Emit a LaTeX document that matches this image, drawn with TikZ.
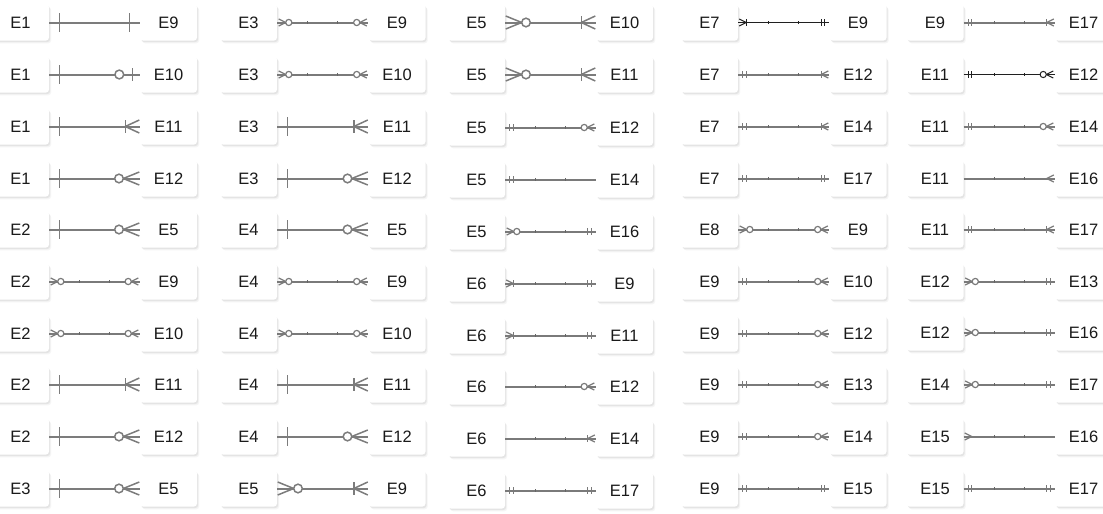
\documentclass[tikz,border=0pt]{standalone}
\usepackage{fontspec}
\setmainfont{Liberation Sans}
\usetikzlibrary{shadows}
\definecolor{bigc}{HTML}{7C7C7C}
\definecolor{smlc}{HTML}{7A7A7A}
\definecolor{blkc}{HTML}{202020}
\definecolor{textc}{HTML}{1A1A1A}
\newfontfamily\entfont{Liberation Sans}
\tikzset{
  ent/.style={rectangle, rounded corners=3pt, fill=white, minimum width=57pt, minimum height=36pt, inner sep=0pt,
    font=\entfont\fontsize{16.5}{18}\selectfont, text=textc,
    drop shadow={shadow xshift=2.2pt, shadow yshift=-2.8pt, opacity=0.08},
    drop shadow={shadow xshift=1.2pt, shadow yshift=-1.6pt, opacity=0.14}},
  Big/.style={color=bigc, line width=2.0pt, markline/.style={line width=1.5pt}},
  Sml/.style={color=smlc, line width=2.0pt, markline/.style={line width=1.2pt}},
  Blk/.style={color=blkc, line width=1.1pt, markline/.style={line width=1pt}},
  Bigtick/.style={inner sep=0pt, minimum size=0pt, draw=none},
  Smltick/.style={rectangle, inner sep=0pt, minimum width=1pt, minimum height=3.6pt, fill=black!60},
  Blktick/.style={rectangle, inner sep=0pt, minimum width=1pt, minimum height=3.2pt, fill=blkc},
  pics/none/.style={code={}},
  pics/Bone/.style={code={\draw[markline] (10.5,-9.5) -- (10.5,9.5);}},
  pics/BzeroOne/.style={code={\draw[markline] (7.5,-6.5) -- (7.5,6.5);
      \draw[markline, fill=white] (20.5,0) circle (4.4);}},
  pics/BoneMany/.style={code={\draw[markline] (14.5,-6.5) -- (14.5,6.5);
      \draw[markline] (0.5,-6.5) -- (14.5,0) -- (0.5,6.5);}},
  pics/BzeroMany/.style={code={\draw[markline] (0.5,-6.5) -- (16.5,0) -- (0.5,6.5);
      \draw[markline, fill=white] (20.8,0) circle (4.3);}},
  pics/SmandOne/.style={code={\draw[markline] (4.5,-3.5) -- (4.5,3.5); \draw[markline] (8,-3.5) -- (8,3.5);}},
  pics/SoneMany/.style={code={\draw[markline] (8,-3.5) -- (8,3.5); \draw[markline] (1,-3.5) -- (8,0) -- (1,3.5);}},
  pics/SzeroMany/.style={code={\draw[markline] (1.5,-3.5) -- (8.5,0) -- (1.5,3.5);
      \draw[markline, fill=white] (11.6,0) circle (3.1);}},
  pics/Smany/.style={code={\draw[markline] (1,-3.5) -- (8,0) -- (1,3.5);}},
}
% #1 id, #2 left x, #3 right x, #4 y, #5 left text, #6 right text, #7 style, #8 left marker, #9 right marker
\newcommand\erpair[9]{%
  \node[ent] (L#1) at (#2,#4) {#5};
  \node[ent] (R#1) at (#3,#4) {#6};
  \draw[#7] (L#1.east) -- (R#1.west);
  \path (L#1.east) -- (R#1.west) node[pos=1/3, #7tick] (TA#1) {} node[pos=2/3, #7tick] (TB#1) {};
  \pic[#7] at (L#1.east) {#8};
  \pic[#7, xscale=-1] at (R#1.west) {#9};
}
\begin{document}
\begin{tikzpicture}[x=1pt, y=-1pt]
\useasboundingbox[fill=white] (0,0) rectangle (1103,514);
% column 1
\erpair{a1}{20.5}{168.5}{22.5}{E1}{E9}{Big}{Bone}{Bone}
\erpair{a2}{20.5}{168.5}{74.5}{E1}{E10}{Big}{Bone}{BzeroOne}
\erpair{a3}{20.5}{168.5}{126.5}{E1}{E11}{Big}{Bone}{BoneMany}
\erpair{a4}{20.5}{168.5}{178.5}{E1}{E12}{Big}{Bone}{BzeroMany}
\erpair{a5}{20.5}{168.5}{229.5}{E2}{E5}{Big}{Bone}{BzeroMany}
\erpair{a6}{20.5}{168.5}{281.5}{E2}{E9}{Sml}{SzeroMany}{SzeroMany}
\erpair{a7}{20.5}{168.5}{333.5}{E2}{E10}{Sml}{SzeroMany}{SzeroMany}
\erpair{a8}{20.5}{168.5}{384.5}{E2}{E11}{Big}{Bone}{BoneMany}
\erpair{a9}{20.5}{168.5}{436.5}{E2}{E12}{Big}{Bone}{BzeroMany}
\erpair{a10}{20.5}{168.5}{488.5}{E3}{E5}{Big}{Bone}{BzeroMany}
% column 2
\erpair{b1}{248.5}{397}{22.5}{E3}{E9}{Sml}{SzeroMany}{SzeroMany}
\erpair{b2}{248.5}{397}{74.5}{E3}{E10}{Sml}{SzeroMany}{SzeroMany}
\erpair{b3}{248.5}{397}{126.5}{E3}{E11}{Big}{Bone}{BoneMany}
\erpair{b4}{248.5}{397}{178.5}{E3}{E12}{Big}{Bone}{BzeroMany}
\erpair{b5}{248.5}{397}{229.5}{E4}{E5}{Big}{Bone}{BzeroMany}
\erpair{b6}{248.5}{397}{281.5}{E4}{E9}{Sml}{SzeroMany}{SzeroMany}
\erpair{b7}{248.5}{397}{333.5}{E4}{E10}{Sml}{SzeroMany}{SzeroMany}
\erpair{b8}{248.5}{397}{384.5}{E4}{E11}{Big}{Bone}{BoneMany}
\erpair{b9}{248.5}{397}{436.5}{E4}{E12}{Big}{Bone}{BzeroMany}
\erpair{b10}{248.5}{397}{488.5}{E5}{E9}{Big}{BzeroMany}{BoneMany}
% column 3
\erpair{c1}{476.5}{624.5}{22.5}{E5}{E10}{Big}{BzeroMany}{BoneMany}
\erpair{c2}{476.5}{624.5}{74.5}{E5}{E11}{Big}{BzeroMany}{BoneMany}
\erpair{c3}{476.5}{624.5}{127.5}{E5}{E12}{Sml}{SmandOne}{SzeroMany}
\erpair{c4}{476.5}{624.5}{179.5}{E5}{E14}{Sml}{SmandOne}{none}
\erpair{c5}{476.5}{624.5}{231.5}{E5}{E16}{Sml}{SzeroMany}{SmandOne}
\erpair{c6}{476.5}{624.5}{283.5}{E6}{E9}{Sml}{SoneMany}{SmandOne}
\erpair{c7}{476.5}{624.5}{335.5}{E6}{E11}{Sml}{SoneMany}{SmandOne}
\erpair{c8}{476.5}{624.5}{386.5}{E6}{E12}{Sml}{none}{SzeroMany}
\erpair{c9}{476.5}{624.5}{438.5}{E6}{E14}{Sml}{none}{SoneMany}
\erpair{c10}{476.5}{624.5}{490.5}{E6}{E17}{Sml}{SmandOne}{SmandOne}
% column 4
\erpair{d1}{709.5}{858}{22.5}{E7}{E9}{Blk}{SoneMany}{SmandOne}
\erpair{d2}{709.5}{858}{74.5}{E7}{E12}{Sml}{SmandOne}{SoneMany}
\erpair{d3}{709.5}{858}{126.5}{E7}{E14}{Sml}{SmandOne}{SoneMany}
\erpair{d4}{709.5}{858}{178.5}{E7}{E17}{Sml}{SmandOne}{SmandOne}
\erpair{d5}{709.5}{858}{229.5}{E8}{E9}{Sml}{SzeroMany}{SzeroMany}
\erpair{d6}{709.5}{858}{281.5}{E9}{E10}{Sml}{SmandOne}{SzeroMany}
\erpair{d7}{709.5}{858}{333.5}{E9}{E12}{Sml}{SmandOne}{SzeroMany}
\erpair{d8}{709.5}{858}{384.5}{E9}{E13}{Sml}{SmandOne}{SzeroMany}
\erpair{d9}{709.5}{858}{436.5}{E9}{E14}{Sml}{SmandOne}{SzeroMany}
\erpair{d10}{709.5}{858}{488.5}{E9}{E15}{Sml}{SmandOne}{SmandOne}
% column 5
\erpair{e1}{935}{1083.5}{22.5}{E9}{E17}{Sml}{SmandOne}{SoneMany}
\erpair{e2}{935}{1083.5}{74.5}{E11}{E12}{Blk}{SmandOne}{SzeroMany}
\erpair{e3}{935}{1083.5}{126.5}{E11}{E14}{Sml}{SmandOne}{SzeroMany}
\erpair{e4}{935}{1083.5}{178.5}{E11}{E16}{Sml}{none}{Smany}
\erpair{e5}{935}{1083.5}{229.5}{E11}{E17}{Sml}{SmandOne}{SoneMany}
\erpair{e6}{935}{1083.5}{281.5}{E12}{E13}{Sml}{SzeroMany}{SmandOne}
\erpair{e7}{935}{1083.5}{332.5}{E12}{E16}{Sml}{SzeroMany}{SmandOne}
\erpair{e8}{935}{1083.5}{384.5}{E14}{E17}{Sml}{SzeroMany}{SmandOne}
\erpair{e9}{935}{1083.5}{436.5}{E15}{E16}{Sml}{Smany}{none}
\erpair{e10}{935}{1083.5}{488.5}{E15}{E17}{Sml}{SmandOne}{SmandOne}
\end{tikzpicture}
\end{document}
